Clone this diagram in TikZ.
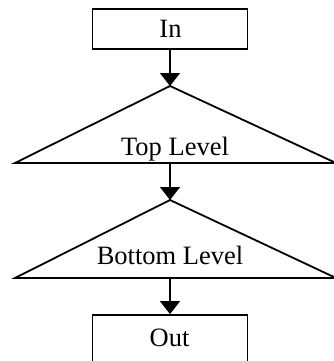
\documentclass[tikz,border=0pt]{standalone}
\usepackage{fontspec}
\setmainfont{Liberation Serif}
\usetikzlibrary{arrows.meta}
\begin{document}
\begin{tikzpicture}[x=1pt,y=-1pt,
  boxnode/.style={draw, line width=1.8pt, inner sep=0pt},
  tri/.style={draw, line width=1.8pt, line join=miter},
  lbl/.style={inner sep=0pt, font=\fontsize{26.5}{30}\selectfont},
  conn/.style={line width=1.4pt, -{Triangle[width=20pt,length=13pt]}}]
\useasboundingbox (0,0) rectangle (334,361);
\clip (0,0) rectangle (334,361);
\fill[white] (0,0) rectangle (334,361);
% In box
\node[boxnode, minimum width=155pt, minimum height=40pt] (in) at (170,29) {};
\node[lbl, anchor=base] (inlabel) at (170.5,37.5) {In};
% Top triangle
\coordinate (topapex) at (170,86);
\coordinate (topbase) at (170,163);
\draw[tri] (topapex) -- (15,163) -- (336,163) -- cycle;
\node[lbl, anchor=base] (toplabel) at (175,155.5) {Top Level};
% Bottom triangle
\coordinate (botapex) at (170,200);
\coordinate (botbase) at (170,278);
\draw[tri] (botapex) -- (15,278) -- (336,278) -- cycle;
\node[lbl, anchor=base] (botlabel) at (170,264) {Bottom Level};
% Out box
\node[boxnode, minimum width=155pt, minimum height=55pt] (out) at (170,342.5) {};
\node[lbl, anchor=base] (outlabel) at (169.5,346) {Out};
% connectors
\draw[conn] (in.south) -- (topapex);
\draw[conn] (topbase) -- (botapex);
\draw[conn] (botbase) -- (out.north);
\end{tikzpicture}
\end{document}
